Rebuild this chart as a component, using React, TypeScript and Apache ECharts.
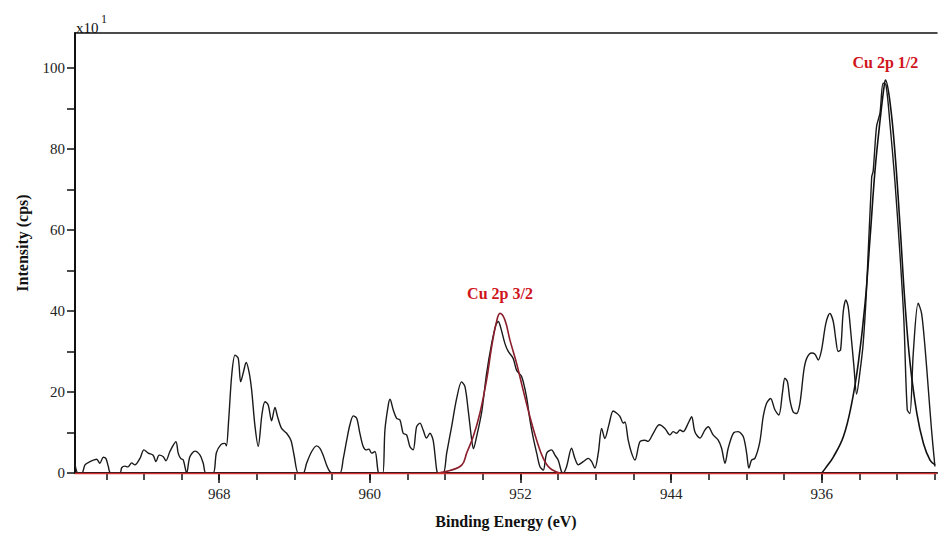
import React, { useEffect, useRef } from "react";
import * as echarts from "echarts";

const FONT = '"Liberation Serif", "Times New Roman", serif';

// Axis ranges / ticks (binding energy in eV, intensity in cps x10)
const xMin = 929.88;
const xMax = 975.66;
const yMax = 108.6;
const xTickValues = [930, 932, 934, 936, 938, 940, 942, 944, 946, 948, 950, 952, 954, 956, 958, 960, 962, 964, 966, 968, 970, 972, 974];
const xLabelValues = [936, 944, 952, 960, 968];
const yTickValues = [0, 10, 20, 30, 40, 50, 60, 70, 80, 90, 100];
const yLabelValues = [0, 20, 40, 60, 80, 100];

const xAxisTitle = "Binding Energy (eV)";
const yAxisTitle = "Intensity (cps)";
const peakNames = ["Cu 2p 3/2", "Cu 2p 1/2"];

// Measured spectrum [eV, intensity]
const rawSpectrum: [number, number][] = [
  [975.66, 2.2], [975.5, 0], [975.29, 0], [975.13, 2.0], [974.87, 2.8], [974.51, 3.4], [974.34, 2.4],
  [974.16, 3.9], [974.02, 3.6], [973.89, 1.6], [973.77, 0], [973.27, 0], [973.18, 1.3], [973.01, 1.7],
  [972.85, 1.5], [972.65, 2.5], [972.48, 2.0], [972.21, 3.6], [972.0, 5.7], [971.77, 4.9], [971.51, 4.4],
  [971.36, 2.8], [971.19, 4.4], [970.97, 4.0], [970.83, 3.0], [970.62, 5.3], [970.3, 7.7], [970.18, 4.9],
  [970.05, 3.6], [969.91, 3.2], [969.73, 0], [969.56, 4.0], [969.29, 5.4], [969.02, 4.4], [968.85, 2.4],
  [968.71, 0], [968.32, 0], [968.15, 5.0], [967.91, 7.0], [967.7, 7.3], [967.62, 6.7], [967.5, 13.0],
  [967.33, 24.5], [967.16, 29.1], [966.99, 28.3], [966.86, 22.5], [966.71, 25.0], [966.57, 27.3],
  [966.42, 25.0], [966.28, 20.5], [966.1, 11.5], [965.93, 6.6], [965.73, 14.5], [965.57, 17.6],
  [965.4, 16.8], [965.22, 12.9], [965.04, 16.2], [964.91, 14.0], [964.69, 11.0], [964.42, 9.8],
  [964.19, 8.0], [964.03, 4.5], [963.8, 0], [963.54, 0], [963.36, 2.4], [963.09, 5.3], [962.83, 6.7],
  [962.65, 6.1], [962.48, 4.4], [962.3, 2.0], [962.12, 0.3], [961.95, 0], [961.59, 0], [961.41, 3.6],
  [961.23, 8.1], [961.06, 11.9], [960.88, 14.1], [960.7, 13.5], [960.53, 9.8], [960.35, 6.5],
  [960.17, 5.7], [960.05, 5.9], [959.91, 4.9], [959.73, 5.3], [959.56, 0.3], [959.47, 0], [959.31, 0],
  [959.2, 10.6], [959.02, 16.8], [958.93, 18.2], [958.76, 15.6], [958.58, 13.5], [958.4, 13.1],
  [958.23, 9.8], [958.05, 9.4], [957.87, 6.5], [957.7, 5.7], [957.52, 11.4], [957.34, 12.3],
  [957.17, 10.6], [956.99, 8.6], [956.81, 9.8], [956.64, 8.1], [956.45, 0.7], [956.37, 0], [956.1, 0],
  [955.92, 4.9], [955.66, 11.4], [955.39, 18.4], [955.13, 22.5], [954.95, 21.3], [954.78, 15.6],
  [954.6, 8.5], [954.5, 6.0], [954.33, 9.0], [954.06, 15.1], [953.8, 24.6], [953.53, 32.0],
  [953.31, 36.5], [953.18, 37.4], [953.04, 35.7], [952.83, 32.0], [952.65, 30.0], [952.39, 28.3],
  [952.21, 25.4], [951.94, 23.8], [951.68, 18.8], [951.5, 13.1], [951.32, 8.6], [951.14, 4.9],
  [950.97, 1.6], [950.79, 0.7], [950.61, 4.9], [950.35, 5.7], [950.17, 4.4], [950.0, 3.2],
  [949.82, 0.3], [949.73, 0], [949.55, 1.6], [949.29, 6.1], [949.11, 3.6], [948.93, 2.0],
  [948.67, 2.8], [948.4, 3.6], [948.22, 2.8], [948.05, 1.2], [947.87, 4.9], [947.69, 11.0],
  [947.52, 8.5], [947.3, 12.0], [947.08, 15.3], [946.9, 14.8], [946.72, 14.0], [946.54, 12.3],
  [946.45, 12.6], [946.28, 8.1], [946.1, 4.9], [945.92, 3.2], [945.66, 7.7], [945.39, 8.1],
  [945.23, 7.8], [944.95, 9.8], [944.63, 11.9], [944.33, 11.0], [944.06, 9.4], [943.89, 10.2],
  [943.71, 9.8], [943.53, 10.6], [943.36, 10.2], [943.09, 12.3], [942.91, 13.9], [942.74, 10.2],
  [942.47, 8.6], [942.21, 10.6], [942.03, 11.4], [941.77, 9.4], [941.5, 8.1], [941.32, 6.1],
  [941.14, 2.4], [940.97, 6.1], [940.7, 9.8], [940.44, 10.2], [940.17, 9.0], [939.99, 4.9],
  [939.87, 1.2], [939.73, 3.2], [939.55, 3.6], [939.29, 7.7], [939.11, 13.9], [938.93, 17.2],
  [938.72, 18.4], [938.49, 15.6], [938.28, 14.3], [938.08, 20.1], [937.96, 23.4], [937.82, 22.5],
  [937.69, 18.0], [937.52, 15.1], [937.34, 14.7], [937.16, 17.2], [936.95, 25.4], [936.8, 28.3],
  [936.54, 29.6], [936.36, 29.3], [936.19, 27.9], [936.01, 30.4], [935.78, 37.0], [935.57, 39.4],
  [935.39, 37.4], [935.25, 32.8], [935.13, 30.0], [935.0, 30.4], [934.86, 39.8], [934.72, 42.7],
  [934.6, 41.1], [934.47, 35.3], [934.29, 26.2], [934.15, 19.5], [933.97, 25.0], [933.8, 32.0],
  [933.62, 45.5], [933.35, 73.0], [933.27, 74.5], [933.09, 85.5], [932.91, 88.8], [932.74, 96.2],
  [932.59, 95.8], [932.38, 86.3], [932.12, 72.3], [931.85, 54.2], [931.64, 37.8], [931.46, 15.6],
  [931.32, 14.7], [931.14, 29.6], [930.88, 41.9], [930.7, 39.4], [930.52, 31.2], [930.35, 21.3],
  [930.17, 10.6], [929.99, 1.6],
];

// Fitted component Cu 2p 3/2 [eV, intensity]
const fitCu2p32: [number, number][] = [
  [956.39, 0], [955.75, 0.6], [955.11, 2.0], [954.86, 4.9], [954.51, 9.0], [954.16, 14.7],
  [953.8, 23.0], [953.53, 31.2], [953.27, 37.4], [953.09, 39.4], [952.83, 37.8], [952.56, 32.8],
  [952.21, 27.1], [951.86, 20.5], [951.5, 13.9], [951.14, 8.1], [950.79, 3.6], [950.44, 1.2],
  [949.91, 0],
];

// Fitted component Cu 2p 1/2 [eV, intensity]
const fitCu2p12: [number, number][] = [
  [936.0, 0], [935.8, 1.2], [935.38, 4.0], [934.85, 9.0], [934.41, 17.2], [934.06, 27.1],
  [933.7, 41.9], [933.43, 58.3], [933.17, 74.8], [932.9, 87.2], [932.69, 95.4], [932.62, 97.0],
  [932.37, 91.3], [932.11, 78.9], [931.84, 60.8], [931.58, 41.9], [931.31, 27.1], [930.95, 14.7],
  [930.6, 7.3], [930.25, 3.2], [929.98, 2.0],
];

const peakOf = (arr: [number, number][]) => arr.reduce((a, b) => (b[1] > a[1] ? b : a));

const AXIS_COLOR = "#111111";
const LABEL_RED = "#d0141c";

export default function App() {
  const ref = useRef<HTMLDivElement>(null);

  useEffect(() => {
    if (!ref.current) return;
    const chart = echarts.init(ref.current, undefined, { renderer: "svg" });
    const labelStyle = {
      show: true,
      position: "top",
      color: LABEL_RED,
      fontFamily: FONT,
      fontWeight: "bold",
      fontSize: 16,
      formatter: (p: any) => p.name,
    };
    const option: any = {
      animation: false,
      backgroundColor: "#ffffff",
      grid: { left: 75, right: 1, top: 33, bottom: 66, containLabel: false },
      xAxis: [
        {
          type: "value",
          min: xMin,
          max: xMax,
          inverse: true,
          position: "bottom",
          axisLine: { show: true, onZero: false, lineStyle: { color: AXIS_COLOR, width: 2 } },
          axisTick: { show: true, customValues: xTickValues, length: 7, lineStyle: { color: AXIS_COLOR, width: 1.5 } },
          axisLabel: {
            show: true,
            customValues: xLabelValues,
            margin: 13,
            fontSize: 15,
            fontFamily: FONT,
            color: "#222",
          },
          splitLine: { show: false },
          name: xAxisTitle,
          nameLocation: "middle",
          nameGap: 40,
          nameTextStyle: { fontFamily: FONT, fontWeight: "bold", fontSize: 16, color: "#111" },
        },
        {
          type: "value",
          min: xMin,
          max: xMax,
          inverse: true,
          position: "bottom",
          axisLine: { show: false, onZero: false },
          axisTick: { show: true, customValues: xLabelValues, length: 10, lineStyle: { color: AXIS_COLOR, width: 1.5 } },
          axisLabel: { show: false },
          splitLine: { show: false },
        },
        {
          type: "value",
          min: xMin,
          max: xMax,
          inverse: true,
          position: "top",
          axisLine: { show: true, onZero: false, lineStyle: { color: AXIS_COLOR, width: 1.5 } },
          axisTick: { show: false },
          axisLabel: { show: false },
          splitLine: { show: false },
        },
      ],
      yAxis: {
        type: "value",
        min: 0,
        max: yMax,
        position: "left",
        axisLine: { show: true, onZero: false, lineStyle: { color: AXIS_COLOR, width: 2 } },
        axisTick: { show: true, customValues: yTickValues, length: 8, lineStyle: { color: AXIS_COLOR, width: 1.5 } },
        axisLabel: {
          show: true,
          customValues: yLabelValues,
          margin: 10,
          fontSize: 15,
          fontFamily: FONT,
          color: "#222",
          verticalAlign: "middle",
          padding: [0, 0, 10, 0],
        },
        splitLine: { show: false },
        name: yAxisTitle,
        nameLocation: "middle",
        nameGap: 45,
        nameTextStyle: { fontFamily: FONT, fontWeight: "bold", fontSize: 16, color: "#111", padding: [0, 0, 0, 20] },
      },
      graphic: [
        {
          type: "text",
          x: 76,
          y: 35,
          style: { text: "x10", fontSize: 15, fontFamily: FONT, fill: "#111", verticalAlign: "bottom", align: "left" },
        },
        {
          type: "text",
          x: 101,
          y: 25,
          style: { text: "1", fontSize: 12, fontFamily: FONT, fill: "#111", verticalAlign: "bottom", align: "left" },
        },
      ],
      series: [
        {
          name: "Spectrum",
          type: "line",
          xAxisIndex: 0,
          yAxisIndex: 0,
          data: rawSpectrum,
          showSymbol: false,
          symbol: "none",
          smooth: 0.3,
          clip: true,
          lineStyle: { color: "#1a1a1a", width: 1.4 },
          z: 3,
        },
        {
          name: peakNames[0],
          type: "line",
          xAxisIndex: 0,
          yAxisIndex: 0,
          data: fitCu2p32,
          showSymbol: false,
          symbol: "none",
          smooth: 0.4,
          clip: true,
          lineStyle: { color: "#8b1e2b", width: 1.6 },
          z: 4,
          markLine: {
            silent: true,
            symbol: "none",
            label: { show: false },
            lineStyle: { color: "#d03030", width: 1.4, type: "solid" },
            data: [{ yAxis: 0 }],
            z: 10,
          },
          markPoint: {
            symbol: "circle",
            symbolSize: 0,
            label: { ...labelStyle, distance: 12 },
            data: [{ name: peakNames[0], coord: peakOf(fitCu2p32) }],
          },
        },
        {
          name: peakNames[1],
          type: "line",
          xAxisIndex: 0,
          yAxisIndex: 0,
          data: fitCu2p12,
          showSymbol: false,
          symbol: "none",
          smooth: 0.4,
          clip: true,
          lineStyle: { color: "#111111", width: 1.6 },
          z: 4,
          markPoint: {
            symbol: "circle",
            symbolSize: 0,
            label: { ...labelStyle, distance: 9 },
            data: [{ name: peakNames[1], coord: peakOf(fitCu2p12) }],
          },
        },
      ],
    };
    chart.setOption(option);
    return () => chart.dispose();
  }, []);

  return (
    <div
      ref={ref}
      style={{ position: "absolute", left: 0, top: 0, width: 938, height: 539, background: "#fff" }}
    />
  );
}
